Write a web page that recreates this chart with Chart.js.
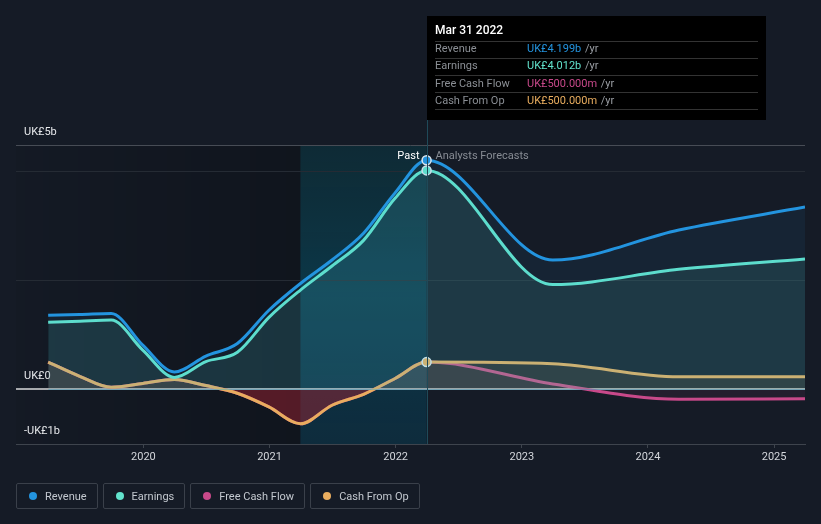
<!DOCTYPE html>
<html>
<head>
<meta charset="utf-8">
<script src="https://cdn.jsdelivr.net/npm/chart.js@4.4.0/dist/chart.umd.min.js"></script>
<style>
  body { margin: 0; background: #151b26; font-family: Roboto, "Noto Sans", sans-serif; }
  #wrap { position: relative; width: 821px; height: 524px; }
  #legend { position: absolute; left: 16px; top: 483px; display: flex; gap: 5px; }
  .item { height: 26px; border: 1px solid #3a404a; border-radius: 2px; display: flex; align-items: center;
          padding: 0 10px 0 12px; color: #c3c8cf; font-size: 11px; box-sizing: border-box; }
  .dot { width: 8px; height: 8px; border-radius: 50%; margin-right: 8px; }
</style>
</head>
<body>
<div id="wrap">
  <canvas id="chart" width="821" height="524"></canvas>
  <div id="legend"></div>
</div>
<script>
// time axis (decimal years), quarterly history then annual forecasts
const pastX = [2019.245, 2019.495, 2019.745, 2019.995, 2020.245, 2020.495, 2020.745, 2020.995, 2021.245, 2021.495, 2021.745, 2021.995, 2022.245];
const forecastX = [2023.245, 2024.245, 2025.245];

// values in UK£ billions
const revenuePast = [1.36, 1.37, 1.39, 0.81, 0.32, 0.61, 0.84, 1.45, 1.94, 2.37, 2.86, 3.60, 4.199];
const revenueForecast = [2.37, 2.92, 3.34];
const earningsPast = [1.23, 1.25, 1.27, 0.72, 0.22, 0.51, 0.68, 1.32, 1.82, 2.26, 2.73, 3.50, 4.012];
const earningsForecast = [1.92, 2.20, 2.39];
const fcfPast = [0.50, 0.24, 0.04, 0.11, 0.18, 0.07, -0.07, -0.32, -0.63, -0.29, -0.09, 0.20, 0.50];
const fcfForecast = [0.10, -0.18, -0.17];
const cfoPast = [0.50, 0.24, 0.04, 0.11, 0.18, 0.07, -0.07, -0.32, -0.63, -0.29, -0.09, 0.20, 0.50];
const cfoForecast = [0.47, 0.23, 0.23];

const yearTicks = [2020, 2021, 2022, 2023, 2024, 2025];
const yTop = 4.477;
const yTicks = [-1, 0, 2, 4, yTop];
const yLabels = { '-1': '-UK£1b', '0': 'UK£0' };
yLabels[yTop] = 'UK£5b';

const nowX = 2022.245;
const bandStart = 2021.245;

const seriesNames = ['Revenue', 'Earnings', 'Free Cash Flow', 'Cash From Op'];
const seriesColors = ['#2394df', '#62e3cd', '#c8498a', '#e9ad5f'];
const tipValues = ['UK£4.199b', 'UK£4.012b', 'UK£500.000m', 'UK£500.000m'];

function points(past, forecast) {
    const xs = pastX.concat(forecastX);
    return past.concat(forecast).map((v, i) => ({ x: xs[i], y: v }));
}

function line(label, color, data, fill, showPoint) {
    return {
        label: label,
        data: data,
        borderColor: color,
        borderWidth: 3,
        backgroundColor: color,
        fill: fill,
        cubicInterpolationMode: 'monotone',
        pointRadius: ctx => (showPoint && ctx.raw && ctx.raw.x === nowX) ? 4.5 : 0,
        pointBorderColor: '#dce6ee',
        pointBorderWidth: 1.5,
        pointBackgroundColor: color,
    };
}

// background shading: dark past area, highlighted last year, hover line, labels and tooltip box
const decor = {
    id: 'decor',
    beforeDraw(chart) {
        const { ctx, chartArea: a, scales: { x } } = chart;
        const xb = x.getPixelForValue(bandStart);
        const xn = x.getPixelForValue(nowX);
        ctx.save();
        let g = ctx.createLinearGradient(a.left, 0, xb, 0);
        g.addColorStop(0, 'rgba(0,0,0,0.03)');
        g.addColorStop(1, 'rgba(0,0,0,0.22)');
        ctx.fillStyle = g;
        ctx.fillRect(a.left, a.top, xb - a.left, a.bottom - a.top);
        g = ctx.createLinearGradient(0, a.top, 0, a.bottom);
        g.addColorStop(0, 'rgba(0,80,90,0.3)');
        g.addColorStop(0.5, 'rgba(0,95,120,0.42)');
        g.addColorStop(1, 'rgba(0,80,110,0.32)');
        ctx.fillStyle = g;
        ctx.fillRect(xb, a.top, xn - xb, a.bottom - a.top);
        ctx.restore();
    },
    afterDatasetsDraw(chart) {
        const { ctx, chartArea: a, scales: { x } } = chart;
        const xn = Math.round(x.getPixelForValue(nowX)) + 0.5;
        ctx.save();
        ctx.strokeStyle = '#1f4a59';
        ctx.lineWidth = 1;
        ctx.beginPath();
        ctx.moveTo(xn, 120);
        ctx.lineTo(xn, a.bottom);
        ctx.stroke();

        ctx.font = '11px Roboto';
        ctx.textBaseline = 'middle';
        ctx.textAlign = 'right';
        ctx.fillStyle = '#ffffff';
        ctx.fillText('Past', xn - 8, 156);
        ctx.textAlign = 'left';
        ctx.fillStyle = '#878c94';
        ctx.fillText('Analysts Forecasts', xn + 8, 156);

        // tooltip box
        ctx.fillStyle = '#000000';
        ctx.fillRect(427, 16, 339, 104);
        ctx.fillStyle = '#ffffff';
        ctx.font = '500 12px Roboto';
        ctx.fillText('Mar 31 2022', 435, 31);
        ctx.strokeStyle = '#333333';
        [41, 58, 75, 92, 109].forEach(y => {
            ctx.beginPath();
            ctx.moveTo(435, y + 0.5);
            ctx.lineTo(758, y + 0.5);
            ctx.stroke();
        });
        ctx.font = '11px Roboto';
        seriesNames.forEach((name, i) => {
            const y = 49.5 + i * 17.2;
            ctx.fillStyle = '#8b8f95';
            ctx.fillText(name, 435, y);
            ctx.fillStyle = seriesColors[i];
            ctx.fillText(tipValues[i], 527, y);
            const w = ctx.measureText(tipValues[i]).width;
            ctx.fillStyle = '#9a9ea4';
            ctx.fillText(' /yr', 527 + w + 1, y);
        });
        ctx.restore();
    }
};

const datasets = [
    line('Revenue', seriesColors[0], points(revenuePast, revenueForecast),
        { target: 'origin', above: 'rgba(35,148,223,0.08)' }, true),
    line('Earnings', seriesColors[1], points(earningsPast, earningsForecast),
        { target: 'origin', above: 'rgba(98,227,205,0.11)' }, true),
    line('Cash From Op', seriesColors[3], points(cfoPast, cfoForecast),
        { target: 'origin', above: 'rgba(233,173,95,0.10)', below: 'rgba(160,30,40,0.42)' }, true),
    line('Free Cash Flow', seriesColors[2], points(fcfPast, fcfForecast),
        { target: 'origin', above: 'rgba(200,73,138,0.08)', below: 'rgba(200,73,138,0.08)' }, false),
];

new Chart(document.getElementById('chart'), {
    type: 'line',
    data: { datasets: datasets },
    options: {
        responsive: false,
        animation: false,
        devicePixelRatio: 1,
        layout: { padding: { top: 145, left: 16, right: 16, bottom: 0 } },
        plugins: { legend: { display: false }, tooltip: { enabled: false } },
        scales: {
            x: {
                type: 'linear',
                min: 2018.99,
                max: 2025.245,
                afterBuildTicks: s => { s.ticks = yearTicks.map(v => ({ value: v })); },
                afterFit: s => { s.height = 80; },
                border: { display: true, color: '#3e444d' },
                grid: { drawOnChartArea: false, drawTicks: true, tickLength: 4, color: '#3e444d' },
                ticks: { color: '#d3d6db', font: { family: 'Roboto', size: 11 }, padding: 3, callback: v => String(v) }
            },
            y: {
                min: -1,
                max: yTop,
                afterBuildTicks: s => { s.ticks = yTicks.map(v => ({ value: v })); },
                afterFit: s => { s.width = 0; },
                border: { display: false },
                grid: {
                    drawTicks: false,
                    color: c => c.tick.value === 0 ? '#a7a9ad' : c.tick.value === -1 ? 'rgba(0,0,0,0)' : c.tick.value === yTop ? '#474c55' : '#252b34',
                    lineWidth: c => c.tick.value === 0 ? 2 : 1
                },
                ticks: {
                    mirror: true,
                    padding: 8,
                    labelOffset: -13,
                    color: '#e6e8eb',
                    font: { family: 'Roboto', size: 11 },
                    callback: v => yLabels[v] || ''
                }
            }
        }
    },
    plugins: [decor]
});

// legend as boxed html items
const legend = document.getElementById('legend');
seriesNames.forEach((name, i) => {
    const item = document.createElement('div');
    item.className = 'item';
    item.innerHTML = '<span class="dot" style="background:' + seriesColors[i] + '"></span>' + name;
    legend.appendChild(item);
});
</script>
</body>
</html>
